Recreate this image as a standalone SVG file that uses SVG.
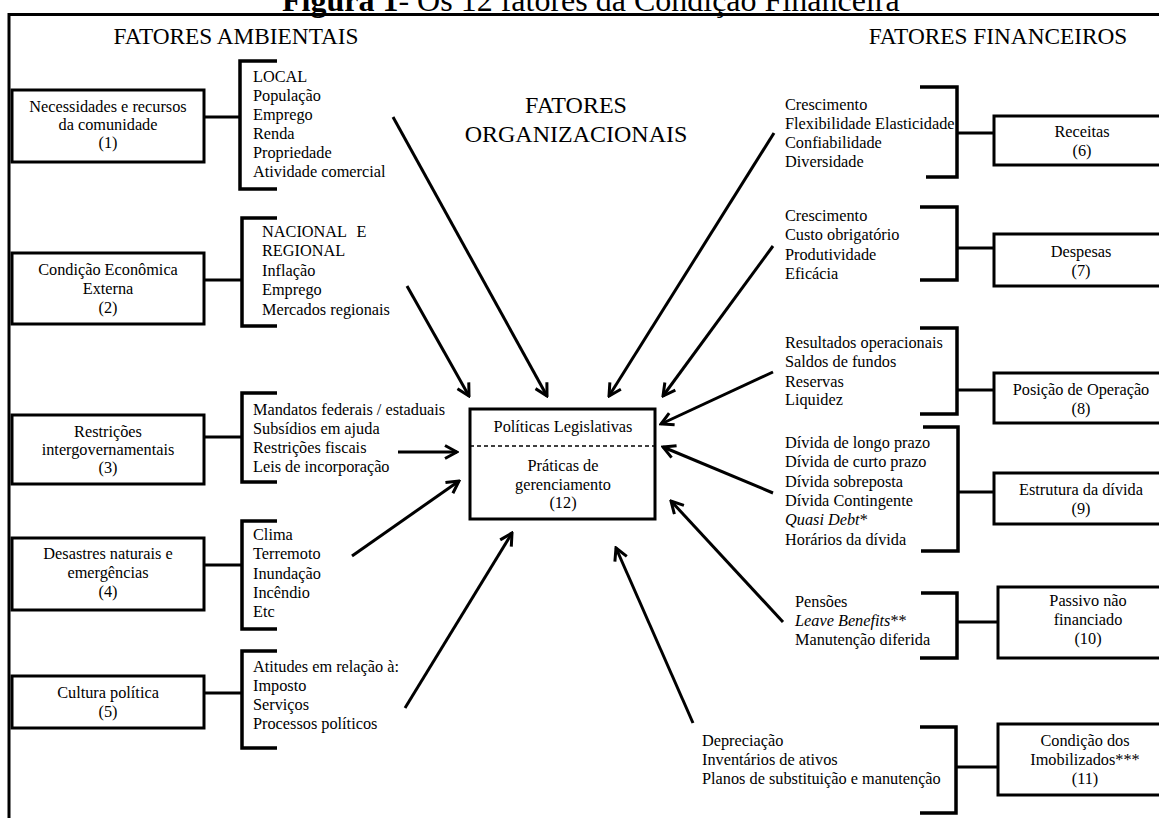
<svg xmlns="http://www.w3.org/2000/svg" width="1159" height="818" viewBox="0 0 1159 818">
<style>
text{font-family:"Liberation Serif","Times New Roman",serif;fill:#000}
.t{font-size:16.3px}
.c{text-anchor:middle}
.h{font-size:23.3px}
.ho{font-size:24px;text-anchor:middle}
.box{fill:#fff;stroke:#000;stroke-width:3}
.br{fill:none;stroke:#000;stroke-width:3.5}
.ln{stroke:#000;stroke-width:3;fill:none}
.ar{stroke:#000;stroke-width:3;fill:none;marker-end:url(#ah)}
.it{font-style:italic}
</style>
<defs>
<marker id="ah" viewBox="0 0 16 16" refX="14" refY="8" markerWidth="16" markerHeight="16" markerUnits="userSpaceOnUse" orient="auto">
<path d="M2,1.5 L14,8 L2,14.5" fill="none" stroke="#000" stroke-width="3"/>
</marker>
</defs>
<rect width="1159" height="818" fill="#fff"/>
<g id="title">
<text x="282" y="11" style="font-size:32px"><tspan font-weight="bold">Figura 1</tspan>- Os 12 fatores da Condição Financeira</text>
</g>
<g id="frame">
<path class="ln" d="M9,818 L9,14.5 L1159,14.5"/>
</g>
<g id="headers">
<text class="h c" x="236" y="44">FATORES AMBIENTAIS</text>
<text class="h c" x="998" y="44">FATORES FINANCEIROS</text>
<text class="ho" x="576" y="113">FATORES</text>
<text class="ho" x="576" y="142">ORGANIZACIONAIS</text>
</g>
<g id="connectors">
<path class="ar" d="M393,117 L547,396"/>
<path class="ar" d="M407,286 L469,396"/>
<path class="ar" d="M774,133 L609,396"/>
<path class="ar" d="M773,246 L663,396"/>
<path class="ar" d="M773,372 L661,424"/>
<path class="ar" d="M773,493 L663,447"/>
<path class="ar" d="M783,622 L671,501"/>
<path class="ar" d="M693,723 L616,548"/>
<path class="ar" d="M405,708 L512,533"/>
<path class="ar" d="M352,556 L459,481"/>
<path class="ar" d="M398,452 L457,452"/>
<path class="ln" d="M204,117 L240,117"/>
<path class="ln" d="M204,280 L242,280"/>
<path class="ln" d="M204,437 L242,437"/>
<path class="ln" d="M204,565 L242,565"/>
<path class="ln" d="M204,693 L242,693"/>
<path class="ln" d="M957,133 L994,133"/>
<path class="ln" d="M957,248 L994,248"/>
<path class="ln" d="M957,390 L994,390"/>
<path class="ln" d="M958,492 L994,492"/>
<path class="ln" d="M957,622 L998,622"/>
<path class="ln" d="M956,767 L998,767"/>
</g>
<g id="node1">
<rect class="box" x="12" y="90" width="192" height="72"/>
<text class="t c" x="108" y="112">Necessidades e recursos</text>
<text class="t c" x="108" y="130">da comunidade</text>
<text class="t c" x="108" y="148">(1)</text>
<path class="br" d="M277,61 L240,61 L240,189 L277,189"/>
<text class="t" x="253" y="82">LOCAL</text>
<text class="t" x="253" y="101">População</text>
<text class="t" x="253" y="120">Emprego</text>
<text class="t" x="253" y="139">Renda</text>
<text class="t" x="253" y="158">Propriedade</text>
<text class="t" x="253" y="177">Atividade comercial</text>
</g>
<g id="node2">
<rect class="box" x="12" y="253" width="192" height="71"/>
<text class="t c" x="108" y="275">Condição Econômica</text>
<text class="t c" x="108" y="294">Externa</text>
<text class="t c" x="108" y="313">(2)</text>
<path class="br" d="M277,218 L242,218 L242,326 L277,326"/>
<text class="t" x="262" y="237" word-spacing="6">NACIONAL E</text>
<text class="t" x="262" y="256">REGIONAL</text>
<text class="t" x="262" y="276">Inflação</text>
<text class="t" x="262" y="295">Emprego</text>
<text class="t" x="262" y="315">Mercados regionais</text>
</g>
<g id="node3">
<rect class="box" x="12" y="415" width="192" height="69"/>
<text class="t c" x="108" y="437">Restrições</text>
<text class="t c" x="108" y="455">intergovernamentais</text>
<text class="t c" x="108" y="473">(3)</text>
<path class="br" d="M277,393 L242,393 L242,482 L277,482"/>
<text class="t" x="253" y="415">Mandatos federais / estaduais</text>
<text class="t" x="253" y="434">Subsídios em ajuda</text>
<text class="t" x="253" y="453">Restrições fiscais</text>
<text class="t" x="253" y="472">Leis de incorporação</text>
</g>
<g id="node4">
<rect class="box" x="12" y="538" width="192" height="72"/>
<text class="t c" x="108" y="559">Desastres naturais e</text>
<text class="t c" x="108" y="578">emergências</text>
<text class="t c" x="108" y="597">(4)</text>
<path class="br" d="M277,521 L242,521 L242,629 L277,629"/>
<text class="t" x="253" y="540">Clima</text>
<text class="t" x="253" y="559">Terremoto</text>
<text class="t" x="253" y="579">Inundação</text>
<text class="t" x="253" y="598">Incêndio</text>
<text class="t" x="253" y="617">Etc</text>
</g>
<g id="node5">
<rect class="box" x="12" y="676" width="192" height="52"/>
<text class="t c" x="108" y="698">Cultura política</text>
<text class="t c" x="108" y="717">(5)</text>
<path class="br" d="M277,651 L242,651 L242,748 L277,748"/>
<text class="t" x="253" y="672">Atitudes em relação à:</text>
<text class="t" x="253" y="691">Imposto</text>
<text class="t" x="253" y="710">Serviços</text>
<text class="t" x="253" y="729">Processos políticos</text>
</g>
<g id="node6">
<rect class="box" x="994" y="116" width="200" height="49"/>
<text class="t c" x="1082" y="137">Receitas</text>
<text class="t c" x="1082" y="156">(6)</text>
<path class="br" d="M920,87 L957,87 L957,177 L926,177"/>
<text class="t" x="785" y="110">Crescimento</text>
<text class="t" x="785" y="129">Flexibilidade Elasticidade</text>
<text class="t" x="785" y="148">Confiabilidade</text>
<text class="t" x="785" y="167">Diversidade</text>
</g>
<g id="node7">
<rect class="box" x="994" y="234" width="200" height="52"/>
<text class="t c" x="1081" y="257">Despesas</text>
<text class="t c" x="1081" y="276">(7)</text>
<path class="br" d="M920,207 L957,207 L957,280 L920,280"/>
<text class="t" x="785" y="221">Crescimento</text>
<text class="t" x="785" y="240">Custo obrigatório</text>
<text class="t" x="785" y="260">Produtividade</text>
<text class="t" x="785" y="279">Eficácia</text>
</g>
<g id="node8">
<rect class="box" x="994" y="373" width="200" height="50"/>
<text class="t c" x="1081" y="395">Posição de Operação</text>
<text class="t c" x="1081" y="414">(8)</text>
<path class="br" d="M920,328 L957,328 L957,414 L920,414"/>
<text class="t" x="785" y="348">Resultados operacionais</text>
<text class="t" x="785" y="367">Saldos de fundos</text>
<text class="t" x="785" y="387">Reservas</text>
<text class="t" x="785" y="405">Liquidez</text>
</g>
<g id="node9">
<rect class="box" x="994" y="473" width="200" height="51"/>
<text class="t c" x="1081" y="495">Estrutura da dívida</text>
<text class="t c" x="1081" y="514">(9)</text>
<path class="br" d="M923,427 L958,427 L958,551 L921,551"/>
<text class="t" x="785" y="448">Dívida de longo prazo</text>
<text class="t" x="785" y="467">Dívida de curto prazo</text>
<text class="t" x="785" y="487">Dívida sobreposta</text>
<text class="t" x="785" y="506">Dívida Contingente</text>
<text class="t" x="785" y="525"><tspan class="it">Quasi Debt</tspan>*</text>
<text class="t" x="785" y="545">Horários da dívida</text>
</g>
<g id="node10">
<rect class="box" x="998" y="587" width="200" height="71"/>
<text class="t c" x="1088" y="606">Passivo não</text>
<text class="t c" x="1088" y="625">financiado</text>
<text class="t c" x="1088" y="644">(10)</text>
<path class="br" d="M921,593 L957,593 L957,658 L920,658"/>
<text class="t" x="795" y="607">Pensões</text>
<text class="t" x="795" y="626"><tspan class="it">Leave Benefits</tspan>**</text>
<text class="t" x="795" y="645">Manutenção diferida</text>
</g>
<g id="node11">
<rect class="box" x="998" y="724" width="200" height="71"/>
<text class="t c" x="1085" y="746">Condição dos</text>
<text class="t c" x="1085" y="765">Imobilizados***</text>
<text class="t c" x="1085" y="784">(11)</text>
<path class="br" d="M920,727 L956,727 L956,813 L920,813"/>
<text class="t" x="702" y="746">Depreciação</text>
<text class="t" x="702" y="765">Inventários de ativos</text>
<text class="t" x="702" y="784">Planos de substituição e manutenção</text>
</g>
<g id="node12">
<rect class="box" x="470" y="409" width="185" height="110"/>
<path d="M470,446 L655,446" stroke="#000" stroke-width="1.5" stroke-dasharray="4,3"/>
<text class="t c" x="563" y="432">Políticas Legislativas</text>
<text class="t c" x="563" y="471">Práticas de</text>
<text class="t c" x="563" y="490">gerenciamento</text>
<text class="t c" x="563" y="508">(12)</text>
</g>
</svg>
